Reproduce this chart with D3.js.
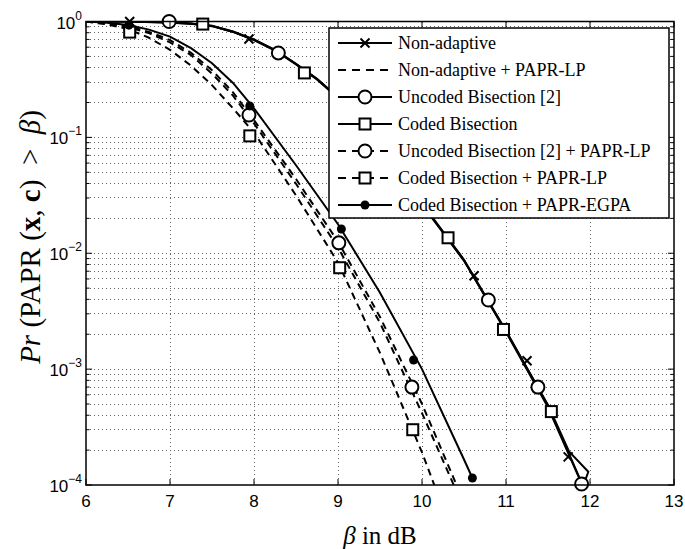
<!DOCTYPE html>
<html>
<head>
    <meta charset="utf-8">
    <style>
        body{
            margin: 0;
            background-color: white;
        }
        .tick-label{
            font-family: "Liberation Sans", Arial, sans-serif;
            font-size: 17px;
            fill: black;
        }
        .grid line{
            stroke: #666;
            stroke-width: 1;
            stroke-dasharray: 1,3;
            shape-rendering: crispEdges;
        }
        .curve{
            fill: none;
            stroke: black;
            stroke-width: 2px;
        }
        .legend text{
            font-family: "Liberation Serif", "Times New Roman", serif;
            font-size: 18px;
        }
    </style>
</head>
<body>
    <svg class="vis"></svg>

    <script src="https://cdnjs.cloudflare.com/ajax/libs/d3/7.8.5/d3.min.js"></script>
    <script>

        var width = 685;
        var height = 549;

        var xTicks = [6, 7, 8, 9, 10, 11, 12, 13];
        var yTickExps = [0, -1, -2, -3, -4];

        // curves: beta (dB) and Pr
        var leftX = [6, 6.25, 6.5, 6.75, 7, 7.25, 7.5, 7.75, 8, 8.5, 9, 9.5, 10, 10.5];
        var naLpY = [1, 0.955, 0.891, 0.794, 0.661, 0.513, 0.355, 0.229, 0.132, 0.0398, 0.0112, 2.51e-3, 4.17e-4, 6.31e-5];
        var ucLpY = [1, 0.966, 0.912, 0.813, 0.692, 0.537, 0.380, 0.245, 0.141, 0.0437, 0.0126, 2.82e-3, 5.01e-4, 7.08e-5];
        var cbLpX = [6, 6.25, 6.5, 6.75, 7, 7.25, 7.5, 7.75, 8, 8.5, 9, 9.5, 10, 10.25];
        var cbLpY = [1, 0.944, 0.860, 0.724, 0.570, 0.416, 0.282, 0.178, 0.110, 0.0316, 8.32e-3, 1.38e-3, 1.91e-4, 6.31e-5];
        var egpaX = [6, 6.25, 6.5, 6.75, 7, 7.25, 7.5, 7.75, 8, 8.5, 9, 9.5, 10, 10.5, 10.6];
        var egpaY = [1, 0.977, 0.933, 0.851, 0.741, 0.589, 0.437, 0.295, 0.178, 0.0575, 0.0178, 4.57e-3, 1.0e-3, 1.66e-4, 1.15e-4];

        var rightX = [6, 6.5, 7, 7.25, 7.5, 7.75, 8, 8.25, 8.5, 8.75, 9, 9.5, 10, 10.5, 11, 11.5, 11.75, 11.95];
        var naY = [1, 1, 0.977, 0.955, 0.912, 0.813, 0.692, 0.562, 0.427, 0.316, 0.219, 0.0891, 0.0263, 8.71e-3, 2.09e-3, 4.68e-4, 1.82e-4, 8.5e-5];
        var ucX = [6, 6.5, 7, 7.25, 7.5, 7.75, 8, 8.25, 8.5, 8.75, 9, 9.5, 10, 10.5, 11, 11.5, 11.9];
        var ucY = [1, 1, 0.998, 0.960, 0.920, 0.820, 0.700, 0.570, 0.432, 0.320, 0.222, 0.0905, 0.0270, 8.80e-3, 2.14e-3, 4.80e-4, 1.05e-4];
        var cbX = [6, 6.5, 7, 7.25, 7.5, 7.75, 8, 8.25, 8.5, 8.75, 9, 9.5, 10, 10.5, 11, 11.5, 11.75, 11.98, 11.9];
        var cbY = [1, 1, 0.980, 0.958, 0.915, 0.815, 0.695, 0.566, 0.430, 0.318, 0.220, 0.0900, 0.0265, 8.60e-3, 2.12e-3, 4.90e-4, 1.95e-4, 1.30e-4, 9.0e-5];

        // marker positions
        var naMarks = [[6.52, 1.0], [7.94, 0.706], [10.62, 6.4e-3], [11.25, 1.18e-3], [11.74, 1.75e-4]];
        var ucMarks = [[6.99, 1.0], [8.29, 0.535], [10.79, 3.95e-3], [11.38, 7.0e-4], [11.9, 1.02e-4]];
        var cbMarks = [[7.39, 0.95], [8.6, 0.36], [10.31, 0.0136], [10.97, 2.2e-3], [11.54, 4.3e-4]];
        var ucLpMarks = [[7.94, 0.156], [9.01, 0.0123], [9.88, 7.0e-4]];
        var cbLpMarks = [[6.52, 0.81], [7.95, 0.103], [9.02, 7.5e-3], [9.89, 3.0e-4]];
        var egpaMarks = [[6.51, 0.93], [7.95, 0.187], [9.04, 0.0162], [9.9, 1.2e-3], [10.6, 1.15e-4]];

        var legendLabels = [
            "Non-adaptive",
            "Non-adaptive + PAPR-LP",
            "Uncoded Bisection [2]",
            "Coded Bisection",
            "Uncoded Bisection [2] + PAPR-LP",
            "Coded Bisection + PAPR-LP",
            "Coded Bisection + PAPR-EGPA"
        ];

        var zip = (xs, ys) => xs.map((x, i) => [x, ys[i]]);

        var series = [
            {pts: zip(rightX, naY), dash: null, marker: "x", marks: naMarks},
            {pts: zip(leftX, naLpY), dash: "7,5", marker: null, marks: []},
            {pts: zip(ucX, ucY), dash: null, marker: "o", marks: ucMarks},
            {pts: zip(cbX, cbY), dash: null, marker: "s", marks: cbMarks},
            {pts: zip(leftX, ucLpY), dash: "7,5", marker: "o", marks: ucLpMarks},
            {pts: zip(cbLpX, cbLpY), dash: "7,5", marker: "s", marks: cbLpMarks},
            {pts: zip(egpaX, egpaY), dash: null, marker: "dot", marks: egpaMarks}
        ];

        var plot = {left: 86, right: 674, top: 21.5, bottom: 485};

        var vis = d3.select("svg.vis")
            .attr("width", width)
            .attr("height", height);

        vis.append("rect")
            .attr("width", width)
            .attr("height", height)
            .attr("fill", "white");

        var x = d3.scaleLinear().domain([6, 13]).range([plot.left, plot.right]);
        var y = d3.scaleLog().domain([1e-4, 1]).range([plot.bottom, plot.top]);

        // grid
        var grid = vis.append("g").attr("class", "grid");
        xTicks.slice(1, -1).forEach(function(t){
            grid.append("line")
                .attr("x1", x(t)).attr("x2", x(t))
                .attr("y1", plot.top).attr("y2", plot.bottom);
        });
        var minorY = [];
        yTickExps.forEach(function(e){
            if (e === 0) return;
            for (var m = 1; m < 10; m++) minorY.push(m * Math.pow(10, e));
        });
        minorY.filter(v => v > 1e-4 && v < 1).forEach(function(v){
            grid.append("line")
                .attr("x1", plot.left).attr("x2", plot.right)
                .attr("y1", y(v)).attr("y2", y(v));
        });

        // curves
        vis.append("clipPath").attr("id", "clip")
            .append("rect")
            .attr("x", plot.left).attr("y", plot.top)
            .attr("width", plot.right - plot.left)
            .attr("height", plot.bottom - plot.top);

        var line = d3.line().x(d => x(d[0])).y(d => y(d[1]));

        var curves = vis.append("g").attr("clip-path", "url(#clip)");
        series.forEach(function(s){
            curves.append("path")
                .attr("class", "curve")
                .attr("d", line(s.pts))
                .attr("stroke-dasharray", s.dash);
        });

        function drawMarker(g, type, cx, cy){
            if (type === "o"){
                g.append("circle").attr("cx", cx).attr("cy", cy).attr("r", 6.5)
                    .attr("fill", "white").attr("stroke", "black").attr("stroke-width", 2);
            } else if (type === "s"){
                g.append("rect").attr("x", cx - 5.5).attr("y", cy - 5.5)
                    .attr("width", 11).attr("height", 11)
                    .attr("fill", "white").attr("stroke", "black").attr("stroke-width", 2);
            } else if (type === "dot"){
                g.append("circle").attr("cx", cx).attr("cy", cy).attr("r", 4.5)
                    .attr("fill", "black");
            } else if (type === "x"){
                var k = 4.5;
                g.append("path")
                    .attr("d", `M${cx-k},${cy-k}L${cx+k},${cy+k}M${cx-k},${cy+k}L${cx+k},${cy-k}`)
                    .attr("stroke", "black").attr("stroke-width", 2);
            }
        }

        var marks = vis.append("g");
        series.forEach(function(s){
            s.marks.forEach(function(m){
                drawMarker(marks, s.marker, x(m[0]), y(m[1]));
            });
        });

        // axes box and ticks
        var axes = vis.append("g");
        axes.append("rect")
            .attr("x", plot.left).attr("y", plot.top)
            .attr("width", plot.right - plot.left)
            .attr("height", plot.bottom - plot.top)
            .attr("fill", "none")
            .attr("stroke", "black")
            .attr("stroke-width", 1.5);

        xTicks.forEach(function(t){
            [[plot.bottom, -6], [plot.top, 6]].forEach(function(p){
                axes.append("line")
                    .attr("x1", x(t)).attr("x2", x(t))
                    .attr("y1", p[0]).attr("y2", p[0] + p[1])
                    .attr("stroke", "black");
            });
            axes.append("text")
                .attr("class", "tick-label")
                .attr("x", x(t))
                .attr("y", 507)
                .attr("text-anchor", "middle")
                .text(t);
        });

        minorY.forEach(function(v){
            var major = yTickExps.some(e => Math.abs(Math.pow(10, e) - v) < v * 1e-6);
            var len = major ? 6 : 3.5;
            [[plot.left, len], [plot.right, -len]].forEach(function(p){
                axes.append("line")
                    .attr("x1", p[0]).attr("x2", p[0] + p[1])
                    .attr("y1", y(v)).attr("y2", y(v))
                    .attr("stroke", "black");
            });
        });

        yTickExps.forEach(function(e){
            var t = axes.append("text")
                .attr("class", "tick-label")
                .attr("x", 82)
                .attr("y", y(Math.pow(10, e)) + 7)
                .attr("text-anchor", "end");
            t.append("tspan").text("10");
            t.append("tspan")
                .attr("dy", -9)
                .attr("font-size", "12px")
                .text(e === 0 ? "0" : "\u2212" + (-e));
        });

        // axis labels
        var xl = vis.append("text")
            .attr("x", (plot.left + plot.right) / 2)
            .attr("y", 544)
            .attr("text-anchor", "middle")
            .attr("font-family", "Liberation Serif, serif")
            .attr("font-size", "25px");
        xl.append("tspan").attr("font-style", "italic").text("\u03b2");
        xl.append("tspan").text(" in dB");

        var yl = vis.append("text")
            .attr("transform", "translate(40,237) rotate(-90)")
            .attr("text-anchor", "middle")
            .attr("font-family", "Liberation Serif, serif")
            .attr("font-size", "29px");
        yl.append("tspan").attr("font-style", "italic").text("Pr");
        yl.append("tspan").text(" (PAPR (");
        yl.append("tspan").attr("font-weight", "bold").text("x");
        yl.append("tspan").text(", ");
        yl.append("tspan").attr("font-weight", "bold").text("c");
        yl.append("tspan").text(")\u2002>\u2002");
        yl.append("tspan").attr("font-style", "italic").text("\u03b2");
        yl.append("tspan").text(")");

        // legend
        var legend = vis.append("g").attr("class", "legend");
        legend.append("rect")
            .attr("x", 329).attr("y", 28)
            .attr("width", 340).attr("height", 190)
            .attr("fill", "white")
            .attr("stroke", "black")
            .attr("stroke-width", 1.5);

        series.forEach(function(s, i){
            var ly = 43 + i * 27;
            legend.append("line")
                .attr("x1", 338).attr("x2", 392)
                .attr("y1", ly).attr("y2", ly)
                .attr("stroke", "black")
                .attr("stroke-width", 2)
                .attr("stroke-dasharray", s.dash ? "8,6" : null);
            if (s.marker) drawMarker(legend, s.marker, 365, ly);
            legend.append("text")
                .attr("x", 398)
                .attr("y", ly + 6)
                .text(legendLabels[i]);
        });

    </script>
</body>
</html>
